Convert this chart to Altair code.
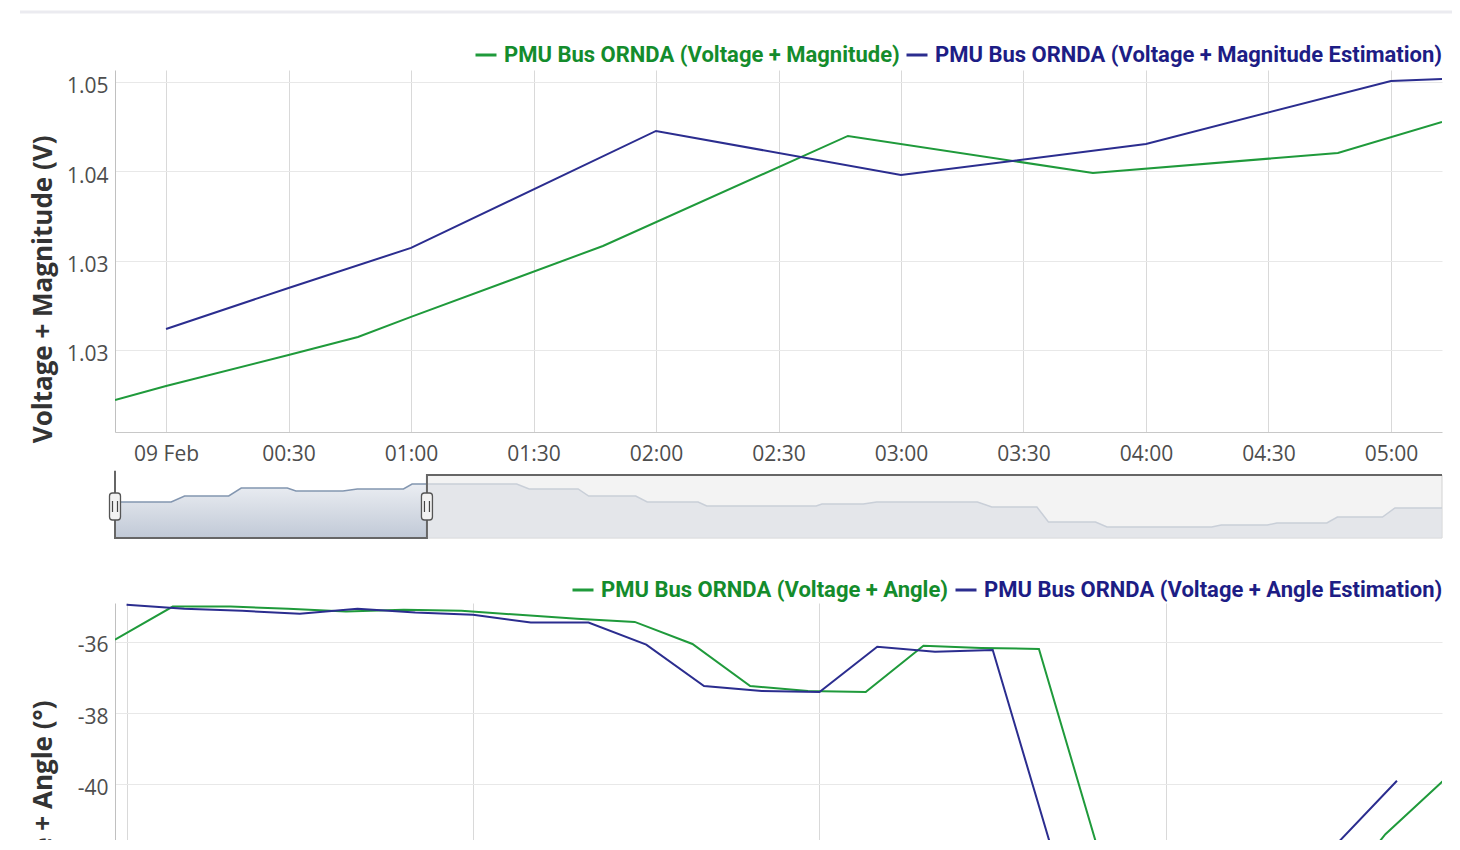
import altair as alt
import numpy as np
import pandas as pd

GREEN = "#1f9a3b"
NAVY = "#2b2d8f"

# ---------------- top panel: voltage magnitude ----------------
mag_series = ["PMU Bus ORNDA (Voltage + Magnitude)",
              "PMU Bus ORNDA (Voltage + Magnitude Estimation)"]
mag_meas_times = ["2021-02-08T23:47:30", "2021-02-09T00:00:00", "2021-02-09T00:30:00",
                  "2021-02-09T00:47:00", "2021-02-09T01:00:00", "2021-02-09T01:47:00",
                  "2021-02-09T02:47:00", "2021-02-09T03:47:00", "2021-02-09T04:47:00",
                  "2021-02-09T05:12:30"]
mag_meas_values = [1.02330, 1.02448, 1.02708, 1.02859, 1.03027, 1.03622,
                   1.04545, 1.04234, 1.04402, 1.04662]
mag_est_times = ["2021-02-09T00:00:00", "2021-02-09T00:30:00", "2021-02-09T01:00:00",
                 "2021-02-09T02:00:00", "2021-02-09T03:00:00", "2021-02-09T04:00:00",
                 "2021-02-09T05:00:00", "2021-02-09T05:12:30"]
mag_est_values = [1.02926, 1.03270, 1.03606, 1.04587, 1.04217, 1.04478, 1.05006, 1.05022]
mag_x_domain = ["2021-02-08T23:47:30", "2021-02-09T05:12:30"]
mag_x_ticks = ["2021-02-09T00:00", "2021-02-09T00:30", "2021-02-09T01:00", "2021-02-09T01:30",
               "2021-02-09T02:00", "2021-02-09T02:30", "2021-02-09T03:00", "2021-02-09T03:30",
               "2021-02-09T04:00", "2021-02-09T04:30", "2021-02-09T05:00"]
mag_y_domain = [1.02062, 1.05098]
mag_y_ticks = [1.0275, 1.035, 1.0425, 1.05]

# ---------------- navigator ----------------
nav_times = ["2021-02-08T23:47:30", "2021-02-09T00:46", "2021-02-09T01:00", "2021-02-09T01:46",
             "2021-02-09T01:59", "2021-02-09T02:47", "2021-02-09T02:56", "2021-02-09T03:45",
             "2021-02-09T04:00", "2021-02-09T04:48", "2021-02-09T04:57", "2021-02-09T06:46",
             "2021-02-09T06:59", "2021-02-09T07:50", "2021-02-09T08:01", "2021-02-09T08:50",
             "2021-02-09T09:02", "2021-02-09T09:55", "2021-02-09T10:04", "2021-02-09T11:58",
             "2021-02-09T12:04", "2021-02-09T12:47", "2021-02-09T13:01", "2021-02-09T14:46",
             "2021-02-09T15:01", "2021-02-09T15:48", "2021-02-09T16:00", "2021-02-09T16:49",
             "2021-02-09T17:01", "2021-02-09T18:50", "2021-02-09T19:00", "2021-02-09T19:48",
             "2021-02-09T19:58", "2021-02-09T20:50", "2021-02-09T21:01", "2021-02-09T21:48",
             "2021-02-09T22:01", "2021-02-09T22:50"]
nav_values = [1.0343, 1.0343, 1.0400, 1.0400, 1.0476, 1.0476, 1.0448, 1.0448, 1.0467, 1.0467,
              1.0514, 1.0514, 1.0467, 1.0467, 1.0400, 1.0400, 1.0343, 1.0343, 1.0305, 1.0305,
              1.0324, 1.0324, 1.0343, 1.0343, 1.0295, 1.0295, 1.0152, 1.0152, 1.0105, 1.0105,
              1.0124, 1.0124, 1.0143, 1.0143, 1.0200, 1.0200, 1.0286, 1.0286]
nav_domain = ["2021-02-08T23:47:30", "2021-02-09T22:50:00"]
nav_sel = ["2021-02-08T23:47:30", "2021-02-09T05:12:30"]
nav_lo, nav_hi = 1.00, 1.06
nav_y_domain = [0.97905, 1.06]

# ---------------- bottom panel: voltage angle ----------------
ang_series = ["PMU Bus ORNDA (Voltage + Angle)",
              "PMU Bus ORNDA (Voltage + Angle Estimation)"]
ang_meas_times = ["2021-02-08T23:58", "2021-02-09T00:08", "2021-02-09T00:18", "2021-02-09T00:28",
                  "2021-02-09T00:38", "2021-02-09T00:48", "2021-02-09T00:58", "2021-02-09T01:08",
                  "2021-02-09T01:18", "2021-02-09T01:28", "2021-02-09T01:38", "2021-02-09T01:48",
                  "2021-02-09T01:58", "2021-02-09T02:08", "2021-02-09T02:18", "2021-02-09T02:28",
                  "2021-02-09T02:38", "2021-02-09T02:48", "2021-02-09T02:58", "2021-02-09T03:08",
                  "2021-02-09T03:18", "2021-02-09T03:28", "2021-02-09T03:38", "2021-02-09T03:48"]
ang_meas_values = [-35.94, -35.01, -35.01, -35.07, -35.15, -35.10, -35.13, -35.24, -35.35,
                   -35.44, -36.06, -37.24, -37.38, -37.41, -36.11, -36.17, -36.20, -41.7,
                   -45.6, -46.2, -45.9, -43.4, -41.4, -39.9]
ang_est_times = ["2021-02-09T00:00", "2021-02-09T00:10", "2021-02-09T00:20", "2021-02-09T00:30",
                 "2021-02-09T00:40", "2021-02-09T00:50", "2021-02-09T01:00", "2021-02-09T01:10",
                 "2021-02-09T01:20", "2021-02-09T01:30", "2021-02-09T01:40", "2021-02-09T01:50",
                 "2021-02-09T02:00", "2021-02-09T02:10", "2021-02-09T02:20", "2021-02-09T02:30",
                 "2021-02-09T02:40", "2021-02-09T02:50", "2021-02-09T03:00", "2021-02-09T03:10",
                 "2021-02-09T03:20", "2021-02-09T03:30", "2021-02-09T03:40"]
ang_est_values = [-34.96, -35.07, -35.13, -35.21, -35.07, -35.18, -35.24, -35.46, -35.46,
                  -36.08, -37.24, -37.38, -37.41, -36.14, -36.28, -36.23, -41.7, -45.6,
                  -46.2, -45.9, -43.4, -41.6, -39.9]
ang_x_domain = ["2021-02-08T23:58:00", "2021-02-09T03:47:48"]
ang_x_ticks = ["2021-02-09T00:00", "2021-02-09T01:00", "2021-02-09T02:00", "2021-02-09T03:00"]
ang_y_domain = [-47.4, -34.91]
ang_y_ticks = [-46, -44, -42, -40, -38, -36]

TOP_H, NAV_H, BOT_H, GAP, PLOT_W = 362, 85, 445, 43, 1327
PAD_TOP, VISIBLE_H = 62, 832   # the page shows the chart only down to this height


def dt(s):
    t = pd.Timestamp(s)
    return alt.DateTime(year=t.year, month=t.month, date=t.day,
                        hours=t.hour, minutes=t.minute, seconds=t.second)


LABEL_FONT = "Open Sans"
LEGEND_FONT = "Roboto"
time_label = ("(hours(datum.value) == 0 && minutes(datum.value) == 0) ? "
              "timeFormat(datum.value, '%d %b') : timeFormat(datum.value, '%H:%M')")


def legend(x, y):
    return alt.Legend(
        orient="none", legendX=x, legendY=y, direction="horizontal", title=None,
        symbolType="stroke", symbolStrokeWidth=3, symbolSize=441,
        labelFont=LEGEND_FONT, labelFontSize=22, labelFontWeight="bold",
        labelLimit=0, labelOffset=6, columnPadding=0, padding=0,
        labelColor={"expr": "indexof(datum.value, 'Estimation') >= 0 ? '#1d1d85' : '#148c2c'"},
    )


# ---- top chart
mag_df = pd.concat([
    pd.DataFrame({"time": mag_meas_times, "value": mag_meas_values, "series": mag_series[0]}),
    pd.DataFrame({"time": mag_est_times, "value": mag_est_values, "series": mag_series[1]}),
])
top_lines = alt.Chart(mag_df).mark_line(strokeWidth=2, clip=True).encode(
    x=alt.X("time:T", title=None,
            scale=alt.Scale(domain=[dt(s) for s in mag_x_domain]),
            axis=alt.Axis(values=[dt(s) for s in mag_x_ticks], labelExpr=time_label,
                          gridColor="#d9d9d9", domainColor="#c8c8c8", ticks=False,
                          tickSize=0, labelPadding=11)),
    y=alt.Y("value:Q", title="Voltage + Magnitude (V)",
            scale=alt.Scale(domain=mag_y_domain, zero=False, nice=False),
            axis=alt.Axis(values=mag_y_ticks, format=".2f", gridColor="#e8e8e8",
                          domainColor="#c0c0c0", ticks=False, tickSize=0, labelPadding=7,
                          labelOffset=5,
                          titleX=-72, titleY=65, titleAlign="right", titleAngle=270,
                          titleBaseline="middle")),
    color=alt.Color("series:N", scale=alt.Scale(domain=mag_series, range=[GREEN, NAVY]),
                    legend=legend(359, -27)),
)
# thin page separator line above the chart
page_rule = alt.Chart(pd.DataFrame({"k": [0]})).mark_rule(
    color="#ebebf0", strokeWidth=3).encode(
    x=alt.value(-95), x2=alt.value(1337), y=alt.value(-58))
top = alt.layer(top_lines, page_rule).properties(width=PLOT_W, height=TOP_H)

# ---- navigator
nav_df = pd.DataFrame({"time": pd.to_datetime(nav_times, format="ISO8601"), "value": nav_values})
sel_end = pd.Timestamp(nav_sel[1])
ts = nav_df["time"].astype("int64").to_numpy()
edge_val = float(np.interp(sel_end.value, ts, nav_df["value"].to_numpy()))
edge = pd.DataFrame({"time": [sel_end], "value": [edge_val]})
sel_df = pd.concat([nav_df[nav_df["time"] < sel_end], edge]).sort_values("time")
rest_df = pd.concat([edge, nav_df[nav_df["time"] > sel_end]]).sort_values("time")
for d in (sel_df, rest_df):
    d["time"] = d["time"].dt.strftime("%Y-%m-%dT%H:%M:%S")
    d["base"] = nav_lo

nav_x = alt.X("time:T", axis=None, scale=alt.Scale(domain=[dt(s) for s in nav_domain]))
nav_y = alt.Y("value:Q", axis=None, scale=alt.Scale(domain=nav_y_domain, zero=False, nice=False))

box_df = pd.DataFrame({"time": [nav_sel[1]], "t2": [nav_domain[1]],
                       "value": [nav_lo], "v2": [nav_hi]})
box = alt.Chart(box_df).mark_rect(fill="#f3f3f3", stroke="#d2d2d2", strokeWidth=1).encode(
    x=nav_x, x2="t2:T", y=nav_y, y2="v2:Q")

rest_area = alt.Chart(rest_df).mark_area(color="#dde0e6", line={"color": "#c9cfd8", "strokeWidth": 1.5}).encode(
    x=nav_x, y=nav_y, y2="base:Q")
sel_area = alt.Chart(sel_df).mark_area(
    color=alt.Gradient(gradient="linear",
                       stops=[alt.GradientStop(color="#e2e6ed", offset=0),
                              alt.GradientStop(color="#a6b2c5", offset=1)],
                       x1=0, x2=0, y1=0, y2=1),
    line={"color": "#8396b0", "strokeWidth": 1.5}).encode(x=nav_x, y=nav_y, y2="base:Q")

outline_df = pd.DataFrame({
    "time": [nav_sel[0], nav_sel[0], nav_sel[1], nav_sel[1], nav_domain[1]],
    "value": [nav_hi + 0.004, nav_lo, nav_lo, nav_hi, nav_hi],
    "i": [0, 1, 2, 3, 4]})
outline = alt.Chart(outline_df).mark_line(color="#666666", strokeWidth=2).encode(
    x=nav_x, y=nav_y, order="i:Q")

handle_df = pd.DataFrame({"time": nav_sel, "value": [(nav_lo + nav_hi) / 2] * 2})
handle_path = ("M -0.407,-0.78 Q -0.407,-1 -0.185,-1 L 0.185,-1 Q 0.407,-1 0.407,-0.78 "
               "L 0.407,0.78 Q 0.407,1 0.185,1 L -0.185,1 Q -0.407,1 -0.407,0.78 Z")
handles = alt.Chart(handle_df).mark_point(
    shape=handle_path, size=729, filled=True, fill="#f2f2f2", fillOpacity=1,
    stroke="#555555", strokeWidth=1.3, opacity=1).encode(x=nav_x, y=nav_y)
grips = alt.Chart(handle_df).mark_point(
    shape="M -0.25,-0.55 L -0.25,0.55 M 0.25,-0.55 L 0.25,0.55", size=400,
    filled=False, stroke="#444444", strokeWidth=1.2, opacity=1).encode(x=nav_x, y=nav_y)

nav = alt.layer(box, rest_area, sel_area, outline, handles, grips).properties(width=PLOT_W, height=NAV_H)

# ---- bottom chart
ang_df = pd.concat([
    pd.DataFrame({"time": ang_meas_times, "value": ang_meas_values, "series": ang_series[0]}),
    pd.DataFrame({"time": ang_est_times, "value": ang_est_values, "series": ang_series[1]}),
])
bottom = alt.Chart(ang_df).mark_line(strokeWidth=2, clip=True).encode(
    x=alt.X("time:T", title=None,
            scale=alt.Scale(domain=[dt(s) for s in ang_x_domain]),
            axis=alt.Axis(values=[dt(s) for s in ang_x_ticks], labelExpr=time_label,
                          gridColor="#d9d9d9", domainColor="#c8c8c8", ticks=False,
                          tickSize=0, labelPadding=11)),
    y=alt.Y("value:Q", title="Voltage + Angle (°)",
            scale=alt.Scale(domain=ang_y_domain, zero=False, nice=False),
            axis=alt.Axis(values=ang_y_ticks, labelExpr="'' + datum.value", gridColor="#e8e8e8",
                          domainColor="#c0c0c0", ticks=False, tickSize=0, labelPadding=7,
                          labelOffset=4,
                          titleX=-72, titleY=97, titleAlign="right", titleAngle=270,
                          titleBaseline="middle")),
    color=alt.Color("series:N", scale=alt.Scale(domain=ang_series, range=[GREEN, NAVY]),
                    legend=legend(456, -25)),
).properties(width=PLOT_W, height=BOT_H)

# with autosize "none" the concat reports no height of its own, so the padding alone sets
# the drawing's height: the page cuts the lower panel off just as the reference does
chart = alt.vconcat(top, nav, bottom, spacing=GAP, bounds="flush").resolve_scale(
    x="independent", y="independent", color="independent"
).properties(
    autosize=alt.AutoSizeParams(type="none"),
    padding={"left": 107, "top": PAD_TOP, "right": 10, "bottom": VISIBLE_H - PAD_TOP},
    background="white",
).configure_view(strokeWidth=0).configure_axis(
    labelFont=LABEL_FONT, labelFontSize=21, labelColor="#4d4d4d",
    titleFont=LABEL_FONT, titleFontSize=26, titleFontWeight="bold", titleColor="#333333",
)

chart.save("out.html", embed_options={"renderer": "svg", "actions": False})
